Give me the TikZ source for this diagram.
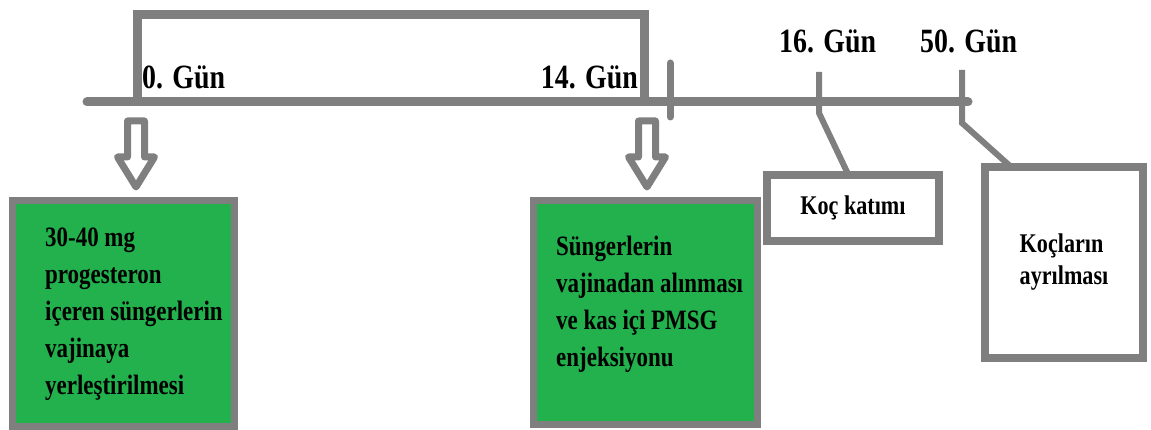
\documentclass[tikz,border=0pt]{standalone}
\usepackage{fontspec}
\setmainfont{Liberation Serif}
\newfontfamily\narrowserif[FakeStretch=0.82]{Liberation Serif}
\usetikzlibrary{
	positioning,   %relative placement
	calc           %coordinate shifts
}
\definecolor{linegray}{RGB}{127,127,127}
\definecolor{boxgreen}{RGB}{34,177,76}
\tikzset{
	every picture/.style={
		x=1pt,y=-1pt
		%1 unit = 1 pixel of the sketch, y grows downwards
}}
\tikzset{
	axis/.style={draw=linegray,line width=9pt},
	tickline/.style={draw=linegray,line width=6pt,line cap=round},
	daylabel/.style={font=\narrowserif\bfseries\fontsize{34}{36}\selectfont,inner sep=0pt},
	greenbox/.style={draw=linegray,fill=boxgreen,line width=7pt,inner sep=0pt},
	whitebox/.style={draw=linegray,fill=white,line width=8pt,inner sep=0pt,
		font=\narrowserif\bfseries\fontsize{27}{32}\selectfont,align=left},
	boxtext/.style={font=\narrowserif\bfseries\fontsize{28}{37}\selectfont,align=left,inner sep=0pt},
	hollowarrow/.style={draw=linegray,line width=7pt,line join=round}
}

\begin{document}
\begin{tikzpicture}
\useasboundingbox (0,0) rectangle (1151,430);
% the time axis and its days
\coordinate (start) at (87,102);
\coordinate (end) at (968,102);
\coordinate (g0) at (137,102);
\coordinate (g14) at (644,102);
\coordinate (g16) at (819,102);
\coordinate (g50) at (962,102);
\draw[axis,line cap=round] (start) -- (end);
\draw[axis] (g0) -- ++(0,-87) -| (g14);
\draw[tickline,line width=7pt] (670,63) -- (670,117);
\node[daylabel,anchor=base west] (l0) at (142,89) {0. Gün};
\node[daylabel,anchor=base east] (l14) at (638,89) {14. Gün};
\node[daylabel,anchor=base west] (l16) at (779,53) {16. Gün};
\node[daylabel,anchor=base west] (l50) at (920,53) {50. Gün};
% hollow arrows down to the green boxes
\foreach \x in {136,647}
	\draw[hollowarrow] (\x-8.5,121) -- (\x+8.5,121) -- (\x+8.5,157) -- (\x+18.5,157)
	-- (\x,187) -- (\x-18.5,157) -- (\x-8.5,157) -- cycle;
% boxes
\node[greenbox,minimum width=222,minimum height=226] (insert) at (123.5,313.5) {};
\node[boxtext,anchor=west] (inserttxt) at ([xshift=36,yshift=-1]insert.west)
	{30-40 mg\\progesteron\\içeren süngerlerin\\vajinaya\\yerleştirilmesi};
\node[greenbox,minimum width=224,minimum height=224] (removal) at (645.5,312.5) {};
\node[boxtext,anchor=west] (removaltxt) at ([xshift=26,yshift=8]removal.west)
	{Süngerlerin\\vajinadan alınması\\ve kas içi PMSG\\enjeksiyonu};
\node[whitebox,minimum width=172,minimum height=66] (ram) at (853,208) {Koç katımı};
\node[whitebox,minimum width=158,minimum height=191] (ramout) at (1064,262.5)
	{Koçların\\ayrılması};
% day ticks bent down to the white boxes
\draw[tickline,line cap=butt] ([yshift=30]g16) -- ([yshift=-11]g16) -- ([xshift=-5,yshift=-3]ram.north);
\draw[tickline,line cap=butt] ([yshift=32]g50) -- ([yshift=-21]g50) -- ([xshift=-54,yshift=-3]ramout.north);
\end{tikzpicture}
\end{document}
